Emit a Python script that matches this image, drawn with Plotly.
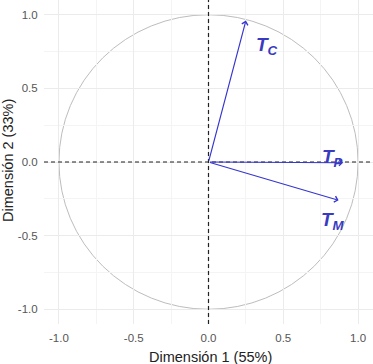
import plotly.graph_objects as go

# Data: PCA variable coordinates (correlation circle)
variables = ["C", "P", "M"]
dim1 = [0.25, 0.90, 0.87]
dim2 = [0.96, -0.005, -0.26]
# label offsets relative to arrow tips (data units)
label_dx = [0.14, -0.07, -0.04]
label_dy = [-0.17, 0.03, -0.14]

tick_vals = [-1.0, -0.5, 0.0, 0.5, 1.0]
tick_text = ["-1.0", "-0.5", "0.0", "0.5", "1.0"]

x_title = "Dimensión 1 (55%)"
y_title = "Dimensión 2 (33%)"

arrow_color = "#3535d0"
label_color = "#3a3ac0"
FONT = "Liberation Sans, Arial"

W, H = 373, 364
ML, MR, MT, MB = 44, 0, 0, 40

fig = go.Figure()
fig.add_trace(go.Scatter(x=dim1, y=dim2, mode="markers",
                         marker=dict(opacity=0), hoverinfo="skip", showlegend=False))

shapes = [
    dict(type="circle", xref="x", yref="y", x0=-1, y0=-1, x1=1, y1=1,
         line=dict(color="#bdbdbd", width=1), layer="below"),
    dict(type="line", xref="x", yref="paper", x0=0, x1=0, y0=0, y1=1,
         line=dict(color="#222222", width=1.2, dash="4px,3px")),
    dict(type="line", xref="paper", yref="y", x0=0, x1=1, y0=0, y1=0,
         line=dict(color="#222222", width=1.2, dash="4px,3px")),
]

annotations = []
for v, x, y, dx, dy in zip(variables, dim1, dim2, label_dx, label_dy):
    annotations.append(dict(
        x=x, y=y, ax=0, ay=0, xref="x", yref="y", axref="x", ayref="y",
        text="", showarrow=True, arrowhead=4, arrowsize=1.1, arrowwidth=1.1,
        arrowcolor=arrow_color, standoff=0, startstandoff=0))
    annotations.append(dict(
        x=x + dx, y=y + dy, xref="x", yref="y", showarrow=False,
        text=f"<b><i>T<sub>{v}</sub></i></b>",
        font=dict(family=FONT, size=19, color=label_color)))

# axis titles as paper annotations (positioned in pixels)
pw = W - ML - MR
ph = H - MT - MB
annotations.append(dict(
    text=x_title, showarrow=False, xref="paper", yref="paper",
    x=(210 - ML) / pw, y=-(357 - (MT + ph)) / ph, xanchor="center", yanchor="middle",
    font=dict(family=FONT, size=14.5, color="#222222")))
annotations.append(dict(
    text=y_title, showarrow=False, xref="paper", yref="paper", textangle=-90,
    x=-(ML - 8) / pw, y=1 - (161 - MT) / ph, xanchor="center", yanchor="middle",
    font=dict(family=FONT, size=14.5, color="#222222")))

axis_common = dict(
    range=[-1.1, 1.1], tickvals=tick_vals, ticktext=tick_text,
    showgrid=True, gridcolor="#ebebeb", gridwidth=1,
    zeroline=False, showline=False, automargin=False,
    ticks="outside", ticklen=3, tickcolor="rgba(0,0,0,0)",
    tickfont=dict(family=FONT, size=11.5, color="#555555"),
    minor=dict(dtick=0.25, showgrid=True, gridcolor="#f4f4f4", gridwidth=0.6),
)

fig.update_layout(
    width=W, height=H,
    margin=dict(l=ML, r=MR, t=MT, b=MB, pad=0),
    plot_bgcolor="white", paper_bgcolor="white",
    shapes=shapes, annotations=annotations,
    xaxis=dict(**axis_common),
    yaxis=dict(**axis_common),
    showlegend=False,
)

fig.write_html("out.html", config={"displayModeBar": False},
               post_script="document.body.style.margin='0';document.body.style.overflow='hidden';")
